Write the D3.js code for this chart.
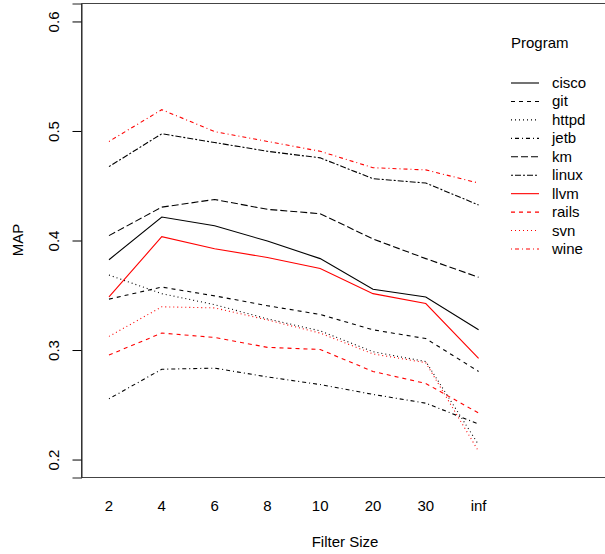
<!DOCTYPE html>
<html>
<head>
<meta charset="utf-8">
<script src="https://cdn.jsdelivr.net/npm/d3@7"></script>
<style>
  body { margin: 0; background: #fff; }
  text { font-family: "Liberation Sans", Arial, Helvetica, sans-serif; fill: #000; }
</style>
</head>
<body>
<div id="chart"></div>
<script>
// x categories and y ticks
const filterSizes = ["2", "4", "6", "8", "10", "20", "30", "inf"];
const yTicks = [0.2, 0.3, 0.4, 0.5, 0.6];
const programs = ["cisco", "git", "httpd", "jetb", "km", "linux", "llvm", "rails", "svn", "wine"];

// MAP per filter size, one array per program
const cisco = [0.382, 0.421, 0.413, 0.399, 0.383, 0.355, 0.348, 0.318];
const git   = [0.346, 0.357, 0.349, 0.340, 0.332, 0.318, 0.310, 0.280];
const httpd = [0.368, 0.351, 0.341, 0.328, 0.317, 0.298, 0.289, 0.213];
const jetb  = [0.255, 0.282, 0.283, 0.275, 0.268, 0.259, 0.251, 0.232];
const km    = [0.404, 0.430, 0.437, 0.428, 0.424, 0.401, 0.383, 0.366];
const linux = [0.467, 0.497, 0.489, 0.481, 0.475, 0.456, 0.452, 0.432];
const llvm  = [0.348, 0.403, 0.392, 0.384, 0.374, 0.351, 0.342, 0.292];
const rails = [0.295, 0.315, 0.311, 0.302, 0.300, 0.280, 0.269, 0.242];
const svn   = [0.312, 0.339, 0.338, 0.327, 0.315, 0.296, 0.288, 0.207];
const wine  = [0.490, 0.519, 0.499, 0.490, 0.481, 0.466, 0.464, 0.452];

const seriesValues = [cisco, git, httpd, jetb, km, linux, llvm, rails, svn, wine];

// R-like line types
const dashes = ["none", "4,4", "1,3", "1,3,4,3", "7,3", "2,2,6,2"];
const colors = ["#000", "#000", "#000", "#000", "#000", "#000", "#f00", "#f00", "#f00", "#f00"];
const lty = [0, 1, 2, 3, 4, 5, 0, 1, 2, 3];

const W = 605, H = 554;
const pLeft = 81, pRight = 609, pTop = 3, pBottom = 477;

const svg = d3.select("#chart")
  .append("svg")
    .attr("width", W)
    .attr("height", H);

// position index scale (categories are evenly spaced)
const x = d3.scaleLinear()
  .domain([0.47, 10.47])
  .range([pLeft, pRight]);

const y = d3.scaleLinear()
  .domain([0.1836, 0.6164])
  .range([pBottom, pTop]);

// box
svg.append("path")
  .attr("d", `M${pRight},${pTop + 0.5}H${pLeft + 0.5}V${pBottom + 0.5}H${pRight}`)
  .attr("fill", "none")
  .attr("stroke", "#444")
  .attr("stroke-width", 1);

// y axis
const yAxis = svg.append("g")
  .attr("transform", "translate(" + (pLeft + 0.5) + ",0.5)")
  .call(d3.axisLeft(y).tickValues(yTicks).tickSize(9).tickFormat(d3.format(".1f")));
yAxis.select(".domain").attr("stroke", "#222");
yAxis.selectAll(".tick line").attr("stroke", "#000");
yAxis.selectAll(".tick text")
  .attr("x", 0)
  .attr("dy", null)
  .attr("font-size", 15)
  .attr("text-anchor", "middle")
  .attr("fill", "#000")
  .attr("transform", "translate(" + (59 - pLeft - 0.5) + ",0) rotate(-90)");

// x labels (no ticks)
svg.append("g")
  .selectAll("text")
  .data(filterSizes)
  .enter()
  .append("text")
    .attr("x", (d, i) => x(i + 1))
    .attr("y", 511)
    .attr("text-anchor", "middle")
    .attr("font-size", 15)
    .text(d => d);

// axis titles
svg.append("text")
  .attr("x", 345)
  .attr("y", 547)
  .attr("text-anchor", "middle")
  .attr("font-size", 15)
  .text("Filter Size");

svg.append("text")
  .attr("transform", "translate(23,240) rotate(-90)")
  .attr("text-anchor", "middle")
  .attr("font-size", 15)
  .text("MAP");

// lines
const line = d3.line()
  .x((d, i) => x(i + 1))
  .y(d => y(d));

svg.selectAll("path.series")
  .data(seriesValues)
  .enter()
  .append("path")
    .attr("class", "series")
    .attr("d", line)
    .attr("fill", "none")
    .attr("stroke", (d, i) => colors[i])
    .attr("stroke-width", 1.1)
    .attr("stroke-dasharray", (d, i) => dashes[lty[i]]);

// legend
const legend = svg.append("g");
legend.append("text")
  .attr("x", 511)
  .attr("y", 48)
  .attr("font-size", 15)
  .text("Program");

const ly = d3.scaleLinear().domain([0, 9]).range([83, 249]);

const items = legend.selectAll("g.item")
  .data(programs)
  .enter()
  .append("g")
    .attr("class", "item");

items.append("line")
  .attr("x1", 511).attr("x2", 539)
  .attr("y1", (d, i) => ly(i)).attr("y2", (d, i) => ly(i))
  .attr("stroke", (d, i) => colors[i])
  .attr("stroke-width", 1.1)
  .attr("stroke-dasharray", (d, i) => dashes[lty[i]]);

items.append("text")
  .attr("x", 552)
  .attr("y", (d, i) => ly(i) + 5)
  .attr("font-size", 15)
  .text(d => d);
</script>
</body>
</html>
